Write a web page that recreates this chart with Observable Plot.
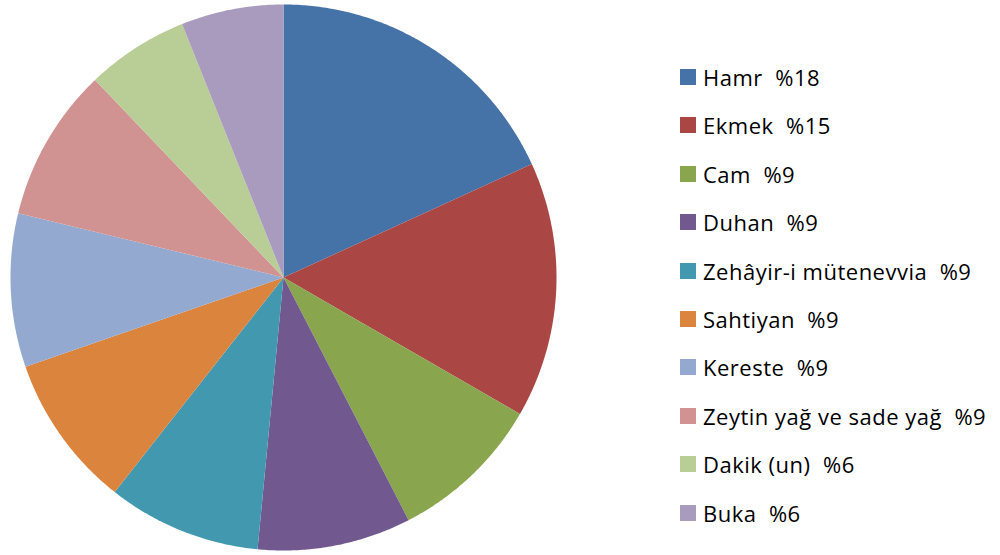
<!DOCTYPE html>
<html>
<head>
<meta charset="utf-8">
<script src="https://cdn.jsdelivr.net/npm/d3@7"></script>
<script src="https://cdn.jsdelivr.net/npm/@observablehq/plot@0.6"></script>
<style>
  html, body { margin: 0; padding: 0; background: #fff; }
  #wrap { position: relative; width: 1000px; height: 555px; }
  #legend { position: absolute; left: 680px; top: 0; font-family: "Open Sans", Lato, sans-serif; font-size: 22px; letter-spacing: 0.5px; color: #000; }
  .item { position: absolute; left: 0; height: 20px; display: flex; align-items: center; white-space: pre; }
  .sw { width: 16px; height: 16px; margin-right: 7px; flex: none; }
</style>
</head>
<body>
<div id="wrap"><div id="legend"></div></div>
<script>
const categories = ["Hamr", "Ekmek", "Cam", "Duhan", "Zehâyir-i mütenevvia", "Sahtiyan", "Kereste", "Zeytin yağ ve sade yağ", "Dakik (un)", "Buka"];
const values = [18, 15, 9, 9, 9, 9, 9, 9, 6, 6];
const colors = ["#4572A7", "#AA4643", "#89A54E", "#71588F", "#4198AF", "#DB843D", "#93A9CF", "#D19392", "#B9CD96", "#A99BBD"];

const W = 1000, H = 555, cx = 283, cy = 277, R = 273;
const total = d3.sum(values);
const pts = [];
let acc = 0;
categories.forEach((c, i) => {
  const a0 = acc / total * 2 * Math.PI;
  acc += values[i];
  const a1 = acc / total * 2 * Math.PI;
  pts.push({key: c, x: 0, y: 0});
  const n = Math.max(2, Math.ceil((a1 - a0) / (Math.PI / 360)));
  for (let k = 0; k <= n; k++) {
    const a = a0 + (a1 - a0) * k / n;
    pts.push({key: c, x: Math.sin(a), y: Math.cos(a)});
  }
  pts.push({key: c, x: 0, y: 0});
});

const chart = Plot.plot({
  width: W, height: H,
  margin: 0,
  x: {domain: [-cx / R, (W - cx) / R], axis: null},
  y: {domain: [-(H - cy) / R, cy / R], axis: null},
  color: {domain: categories, range: colors},
  marks: [
    Plot.line(pts, {x: "x", y: "y", z: "key", fill: "key", stroke: null, curve: "linear"})
  ]
});
chart.style.position = "absolute";
chart.style.left = "0";
chart.style.top = "0";
document.getElementById("wrap").prepend(chart);

const legend = document.getElementById("legend");
categories.forEach((c, i) => {
  const it = document.createElement("div");
  it.className = "item";
  it.style.top = (67 + i * 48.4) + "px";
  const sw = document.createElement("span");
  sw.className = "sw";
  sw.style.background = colors[i];
  const tx = document.createElement("span");
  tx.textContent = c + "  %" + values[i];
  it.appendChild(sw); it.appendChild(tx);
  legend.appendChild(it);
});
</script>
</body>
</html>
